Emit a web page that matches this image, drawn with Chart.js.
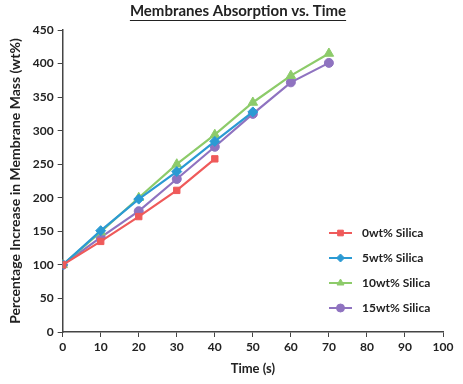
<!DOCTYPE html>
<html>
<head>
<meta charset="utf-8">
<script src="https://cdn.jsdelivr.net/npm/chart.js@4.4.1/dist/chart.umd.min.js"></script>
<style>
  html, body { margin: 0; padding: 0; background: #fff; }
  #wrap { width: 463px; height: 384px; }
</style>
</head>
<body>
<div id="wrap"><canvas id="absChart" width="463" height="384"></canvas></div>
<script>
// data
const timeLabels = [0, 10, 20, 30, 40, 50, 60, 70];
const silica0 = [100, 135, 172, 211, 258];
const silica5 = [100, 151, 198, 239, 284, 328];
const silica10 = [100, 149, 200, 250, 294, 342, 382, 415];
const silica15 = [100, 141, 180, 228, 276, 325, 372, 401];
const seriesNames = ["0wt% Silica", "5wt% Silica", "10wt% Silica", "15wt% Silica"];
const yTicks = [0, 50, 100, 150, 200, 250, 300, 350, 400, 450];
const xTicks = [0, 10, 20, 30, 40, 50, 60, 70, 80, 90, 100];
const chartTitle = "Membranes Absorption vs. Time";

const FONT = "Lato, 'Open Sans', sans-serif";

function toPoints(values) {
  return values.map(function (v, i) { return { x: timeLabels[i], y: v }; });
}

const seriesStyle = [
  { color: "#ef5a5a", point: "rect", radius: 4.5 },
  { color: "#2b9ad3", point: "rectRot", radius: 5 },
  { color: "#8dcb6a", point: "triangle", radius: 5.5 },
  { color: "#8f73c0", point: "circle", radius: 4.5 },
];

const allSeries = [silica0, silica5, silica10, silica15];

const datasets = allSeries.map(function (vals, i) {
  const s = seriesStyle[i];
  return {
    label: seriesNames[i],
    data: toPoints(vals),
    borderColor: s.color,
    backgroundColor: s.color,
    borderWidth: 2.2,
    pointStyle: s.point,
    pointRadius: s.radius,
    pointBorderWidth: 1,
    tension: 0,
  };
});

// legend inside the plot, bottom right
const insideLegend = {
  id: "insideLegend",
  afterDraw(chart) {
    const ctx = chart.ctx;
    const x0 = 329, rowY = [233, 258, 283, 308];
    ctx.save();
    chart.data.datasets.forEach(function (ds, i) {
      const y = rowY[i];
      ctx.strokeStyle = ds.borderColor;
      ctx.lineWidth = 2;
      ctx.beginPath();
      ctx.moveTo(x0, y);
      ctx.lineTo(x0 + 23, y);
      ctx.stroke();
      ctx.fillStyle = ds.backgroundColor;
      ctx.strokeStyle = ds.borderColor;
      ctx.lineWidth = 1;
      Chart.helpers.drawPoint(ctx, { pointStyle: ds.pointStyle, radius: 4, borderWidth: 1 }, x0 + 11.5, y);
      ctx.fillStyle = "#222";
      ctx.font = "bold 12px " + FONT;
      ctx.textAlign = "left";
      ctx.textBaseline = "middle";
      ctx.fillText(ds.label, x0 + 33, y);
    });
    ctx.restore();
  },
};

// underlined title, centred like the reference
const underlinedTitle = {
  id: "underlinedTitle",
  afterDraw(chart) {
    const ctx = chart.ctx;
    ctx.save();
    ctx.font = "bold 15px " + FONT;
    ctx.fillStyle = "#222";
    ctx.textAlign = "center";
    ctx.textBaseline = "middle";
    const cx = 238;
    ctx.fillText(chartTitle, cx, 11);
    const w = ctx.measureText(chartTitle).width;
    ctx.strokeStyle = "#222";
    ctx.lineWidth = 1.2;
    ctx.beginPath();
    ctx.moveTo(cx - w / 2, 20.5);
    ctx.lineTo(cx + w / 2, 20.5);
    ctx.stroke();
    ctx.restore();
  },
};

new Chart(document.getElementById("absChart").getContext("2d"), {
  type: "line",
  data: { datasets: datasets },
  options: {
    responsive: false,
    animation: false,
    layout: { padding: { left: 7, right: 20, top: 30, bottom: 7 } },
    plugins: {
      legend: { display: false },
      tooltip: { enabled: false },
      title: { display: false },
    },
    scales: {
      x: {
        type: "linear",
        min: 0,
        max: 100,
        afterBuildTicks(scale) { scale.ticks = xTicks.map(function (v) { return { value: v }; }); },
        grid: { display: true, drawOnChartArea: false, drawTicks: true, tickLength: 5, color: "#444" },
        border: { color: "#444", width: 1.5 },
        ticks: { color: "#222", font: { family: FONT, size: 12, weight: "bold" }, padding: 3, maxRotation: 0 },
        title: { display: true, text: "Time (s)", color: "#222", font: { family: FONT, size: 13, weight: "bold" }, padding: { top: 4, bottom: 0 } },
      },
      y: {
        min: 0,
        max: 450,
        afterBuildTicks(scale) { scale.ticks = yTicks.map(function (v) { return { value: v }; }); },
        grid: { display: true, drawOnChartArea: false, drawTicks: true, tickLength: 5, color: "#444" },
        border: { color: "#444", width: 1.5 },
        ticks: { color: "#222", font: { family: FONT, size: 12, weight: "bold" }, padding: 4 },
        title: { display: true, text: "Percentage Increase in Membrane Mass (wt%)", color: "#222", font: { family: FONT, size: 14, weight: "bold" }, padding: { top: 0, bottom: 5 } },
      },
    },
  },
  plugins: [insideLegend, underlinedTitle],
});
</script>
</body>
</html>
